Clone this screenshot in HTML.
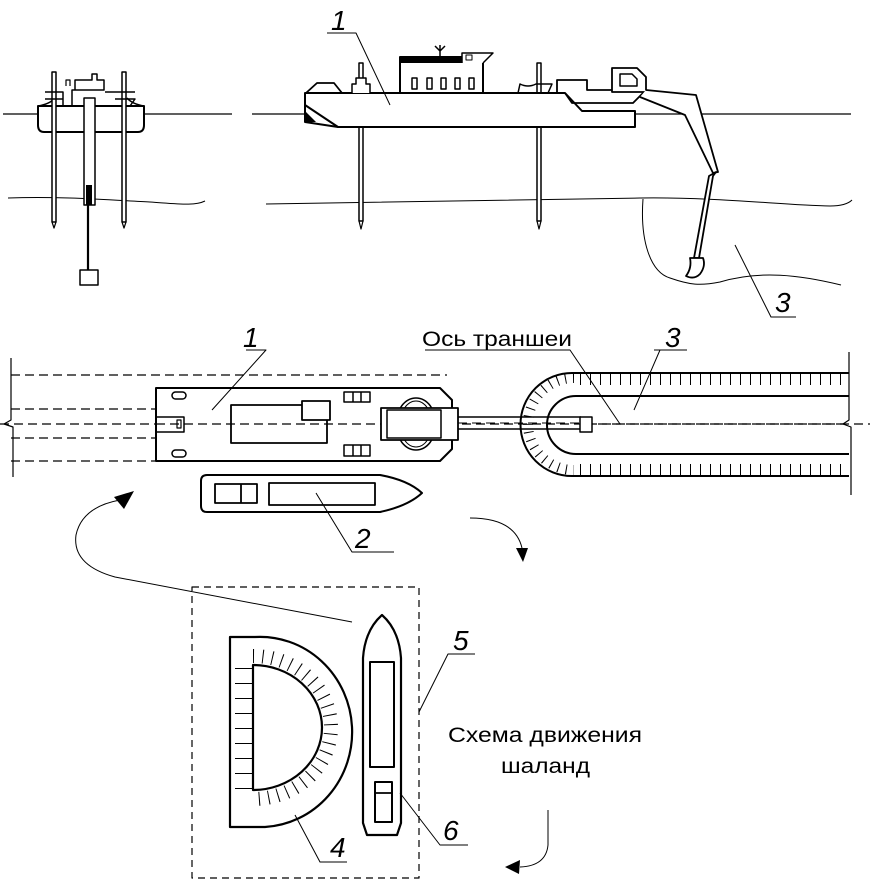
<!DOCTYPE html>
<html><head><meta charset="utf-8"><style>html,body{margin:0;padding:0;background:#fff}svg{display:block}</style></head>
<body>
<svg width="870" height="882" viewBox="0 0 870 882" xmlns="http://www.w3.org/2000/svg" fill="none" stroke="#000" stroke-linejoin="round">
<!-- TOP SECTION -->
<line x1="3" y1="114" x2="232" y2="114" stroke-width="1.2"/>
<line x1="252" y1="114" x2="851" y2="114" stroke-width="1.2"/>
<path d="M8,198 C60,196 110,200 150,202 C180,204 195,206 205,201" stroke-width="1"/>
<path d="M266,204 C400,203 520,200 640,198 C720,197 780,205 830,206 C845,206 850,202 852,200" stroke-width="1"/>
<path d="M643,199 C640,240 650,272 670,278 C690,285 700,286 720,282 C760,270 800,275 841,285" stroke-width="1"/>
<!-- left ship -->
<path d="M38,106 H144 V125 Q144,132 138,132 H44 Q38,132 38,125 Z" stroke-width="2" fill="#fff"/>
<path d="M38,106 Q50,104 55,98 M144,106 Q132,104 127,98" stroke-width="1.5"/>
<rect x="52" y="72" width="4" height="150" stroke-width="1.5" fill="#fff"/>
<rect x="122" y="72" width="4" height="150" stroke-width="1.5" fill="#fff"/>
<path d="M52,222 L54,228 L56,222 M122,222 L124,228 L126,222" stroke-width="1.2"/>
<path d="M45,92 H63 V106 M105,92 H135 M45,99 H63 M115,99 H135 L130,106" stroke-width="1.5"/>
<path d="M72,106 V90 H104 V80 H97 V74 H92 V80 H75 V90" stroke-width="1.5" fill="#fff"/>
<path d="M66,86 V80 H70 V86" stroke-width="1.2"/>
<rect x="84" y="98" width="11" height="107" stroke-width="1.5" fill="#fff"/>
<rect x="86" y="185" width="6" height="20" fill="#000" stroke="none"/>
<line x1="88" y1="205" x2="88" y2="270" stroke-width="2.2"/>
<rect x="80" y="270" width="18" height="15" stroke-width="1.5" fill="#fff"/>
<!-- main ship legs -->
<rect x="359" y="63" width="4" height="158" stroke-width="1.5" fill="#fff"/>
<rect x="537" y="63" width="4" height="158" stroke-width="1.5" fill="#fff"/>
<path d="M359,221 L361,229 L363,221 M537,221 L539,229 L541,221" stroke-width="1.2"/>
<!-- main hull -->
<path d="M305,93 H565 L582,111 H635 V127 H338 L305,122 Z" stroke-width="2" fill="#fff"/>
<path d="M305,105 L338,127" stroke-width="2"/>
<path d="M305,111 L316,122 H305" fill="#000" stroke="none"/>
<path d="M565,93 L572,103 H633 L646,90" stroke-width="1.8"/>
<path d="M306,93 L317,83 H334 L342,93" stroke-width="1.8"/>
<path d="M352,93 V84 H356 V78 H366 V84 H370 V93" stroke-width="1.5" fill="#fff"/>
<path d="M518,93 L520,84 Q528,88 536,84 L552,84 L548,93" stroke-width="1.5"/>
<path d="M557,93 V80 H587 V90 H646" stroke-width="1.8"/>
<path d="M612,92 V68 H637 L646,77 V92 Z" stroke-width="1.8" fill="#fff"/>
<path d="M620,74 H632 L637,79 V86 H620 Z" stroke-width="1.5"/>
<!-- cabin -->
<rect x="400" y="57" width="83" height="36" stroke-width="2" fill="#fff"/>
<rect x="400" y="57" width="83" height="6" fill="#000" stroke="none"/>
<rect x="412" y="78" width="5" height="11" stroke-width="1.5"/>
<rect x="427" y="78" width="5" height="11" stroke-width="1.5"/>
<rect x="441" y="78" width="5" height="11" stroke-width="1.5"/>
<rect x="455" y="78" width="5" height="11" stroke-width="1.5"/>
<rect x="469" y="78" width="5" height="11" stroke-width="1.5"/>
<path d="M440,57 V45 M435,46 L440,51 L445,46" stroke-width="1.5"/>
<path d="M462,63 V53 H493 L483,63" stroke-width="1.5" fill="#fff"/>
<rect x="466" y="55" width="6" height="5" stroke-width="1"/>
<!-- boom -->
<path d="M646,90 L696,95 L718,172 L713,173 L685,115 L640,97" stroke-width="1.8" fill="#fff"/>
<path d="M716,172 L713,176 L699,258 L694,258 L709,176 Z" stroke-width="1.8" fill="#fff"/>
<path d="M690,258 H703 Q706,266 700,274 Q694,280 686,276 Q692,268 690,258 Z" stroke-width="1.8" fill="#fff"/>
<!-- leaders top -->
<path d="M327,33 H356 L390,105" stroke-width="1"/>
<text x="331" y="30" font-family="Liberation Sans, sans-serif" font-style="italic" font-size="28" fill="#000" stroke="none">1</text>
<path d="M735,245 L771,317 H796" stroke-width="1"/>
<text x="775" y="312" font-family="Liberation Sans, sans-serif" font-style="italic" font-size="28" fill="#000" stroke="none">3</text>

<!-- MIDDLE SECTION -->
<g stroke-width="1.2" stroke-dasharray="9 5">
<line x1="11" y1="375" x2="447" y2="375"/>
<line x1="11" y1="409" x2="156" y2="409"/>
<line x1="0" y1="424" x2="870" y2="424"/>
<line x1="11" y1="438" x2="156" y2="438"/>
<line x1="11" y1="461" x2="156" y2="461"/>
</g>
<path d="M11,358 V420 L4,424 L13,427 V477" stroke-width="1.2"/>
<path d="M849,352 V420 L843,424 L851,427 V495" stroke-width="1.2"/>
<!-- trench -->
<path d="M849,373 H572 A51.5,51.5 0 0 0 572,476 H849" stroke-width="2"/>
<path d="M849,396 H576 A29,29 0 0 0 576,454 H849" stroke-width="2"/>
<line x1="580" y1="379" x2="849" y2="379" stroke-width="12" stroke-dasharray="1 9"/>
<line x1="580" y1="470" x2="849" y2="470" stroke-width="12" stroke-dasharray="1 9"/>
<path d="M574,378 A46,46 0 0 0 574,470" stroke-width="10" stroke-dasharray="1 7"/>
<line x1="584" y1="424" x2="849" y2="424" stroke-width="1.2" stroke-dasharray="9 5"/>
<!-- ship 1 plan -->
<path d="M156,388 H440 L452,400 V449 L440,461 H156 Z" stroke-width="2" fill="#fff"/>
<line x1="156" y1="424" x2="452" y2="424" stroke-width="1.2" stroke-dasharray="9 5"/>
<rect x="172" y="392" width="14" height="7" rx="3.5" stroke-width="1.5"/>
<rect x="172" y="450" width="14" height="7" rx="3.5" stroke-width="1.5"/>
<rect x="156" y="417" width="28" height="15" stroke-width="1.5"/>
<rect x="177" y="420" width="4" height="8" stroke-width="1.2"/>
<rect x="231" y="405" width="96" height="38" stroke-width="1.8"/>
<rect x="302" y="401" width="28" height="19" stroke-width="1.8" fill="#fff"/>
<rect x="344" y="392" width="26" height="10" stroke-width="1.5"/>
<path d="M353,392 V402 M361,392 V402" stroke-width="1.5"/>
<rect x="344" y="445" width="26" height="11" stroke-width="1.5"/>
<path d="M353,445 V456 M361,445 V456" stroke-width="1.5"/>
<ellipse cx="416" cy="424" rx="20" ry="26" stroke-width="1.5"/>
<ellipse cx="416" cy="424" rx="16" ry="23" stroke-width="1"/>
<rect x="381" y="408" width="77" height="32" stroke-width="1.8" fill="#fff"/>
<rect x="387" y="410" width="54" height="28" stroke-width="1.5"/>
<line x1="458" y1="417" x2="581" y2="417" stroke-width="1.5"/>
<line x1="458" y1="429" x2="581" y2="429" stroke-width="1.5"/>
<line x1="458" y1="423" x2="581" y2="423" stroke-width="1" stroke-dasharray="9 5"/>
<rect x="580" y="417" width="12" height="15" stroke-width="1.5" fill="#fff"/>
<!-- labels mid -->
<path d="M425,350 H570 L620,424" stroke-width="1"/>
<text x="422" y="346" font-family="Liberation Sans Narrow, Liberation Sans, sans-serif" font-size="21" fill="#000" stroke="none" textLength="150" lengthAdjust="spacingAndGlyphs">Ось траншеи</text>
<path d="M654,350 H687 M660,350 L634,410" stroke-width="1"/>
<text x="665" y="347" font-family="Liberation Sans, sans-serif" font-style="italic" font-size="28" fill="#000" stroke="none">3</text>
<path d="M246,350 H266 L212,410" stroke-width="1"/>
<text x="243" y="347" font-family="Liberation Sans, sans-serif" font-style="italic" font-size="28" fill="#000" stroke="none">1</text>
<!-- ship 2 -->
<path d="M207,475 H380 Q408,480 422,493 Q408,506 380,512 H207 Q201,512 201,506 V481 Q201,475 207,475 Z" stroke-width="2" fill="#fff"/>
<rect x="215" y="484" width="42" height="19" stroke-width="1.8"/>
<line x1="241" y1="484" x2="241" y2="503" stroke-width="1.8"/>
<rect x="269" y="483" width="106" height="22" stroke-width="1.8"/>
<path d="M316,493 L352,552 H394" stroke-width="1"/>
<text x="355" y="548" font-family="Liberation Sans, sans-serif" font-style="italic" font-size="28" fill="#000" stroke="none">2</text>
<!-- arrows -->
<path d="M352,622 L115,577 Q72,565 76,535 Q82,507 120,500" stroke-width="1"/>
<path d="M134,491 L114,497 L124,509 Z" fill="#000" stroke="none"/>
<path d="M470,518 Q515,518 522,548" stroke-width="1"/>
<path d="M516,548 L528,548 L523,562 Z" fill="#000" stroke="none"/>

<!-- BOTTOM SECTION -->
<rect x="192" y="587" width="227" height="291" stroke-width="1.2" stroke-dasharray="7 5"/>
<!-- bucket 4 -->
<path d="M230,637 H255 A92,95 0 0 1 265,827 H230 Z" stroke-width="2.2" fill="#fff"/>
<path d="M253,665 A69,62.5 0 0 1 253,790 Z" stroke-width="2.2"/>
<line x1="244" y1="668" x2="244" y2="790" stroke-width="18" stroke-dasharray="1 14"/>
<path d="M253,656 A78,71.5 0 0 1 253,799" stroke-width="14" stroke-dasharray="1 8.5"/>
<path d="M295,815 L320,862 H347" stroke-width="1"/>
<text x="330" y="857" font-family="Liberation Sans, sans-serif" font-style="italic" font-size="28" fill="#000" stroke="none">4</text>
<!-- barge 6 -->
<path d="M382,615 Q399,630 401,658 V823 L397,835 H367 L363,823 V658 Q365,630 382,615 Z" stroke-width="2.2" fill="#fff"/>
<rect x="370" y="662" width="24" height="105" stroke-width="2"/>
<rect x="375" y="782" width="17" height="40" stroke-width="2"/>
<line x1="375" y1="793" x2="392" y2="793" stroke-width="1.8"/>
<path d="M400,793 L440,845 H468" stroke-width="1"/>
<text x="443" y="840" font-family="Liberation Sans, sans-serif" font-style="italic" font-size="28" fill="#000" stroke="none">6</text>
<path d="M419,712 L448,654 H475" stroke-width="1"/>
<text x="453" y="650" font-family="Liberation Sans, sans-serif" font-style="italic" font-size="28" fill="#000" stroke="none">5</text>
<text x="448" y="742" font-family="Liberation Sans, sans-serif" font-size="21" fill="#000" stroke="none" textLength="194" lengthAdjust="spacingAndGlyphs">Схема движения</text>
<text x="501" y="773" font-family="Liberation Sans, sans-serif" font-size="21" fill="#000" stroke="none" textLength="89" lengthAdjust="spacingAndGlyphs">шаланд</text>
<path d="M548,810 V845 Q546,866 520,867" stroke-width="1"/>
<path d="M505,867 L520,860 L519,874 Z" fill="#000" stroke="none"/>
</svg>
</body></html>
